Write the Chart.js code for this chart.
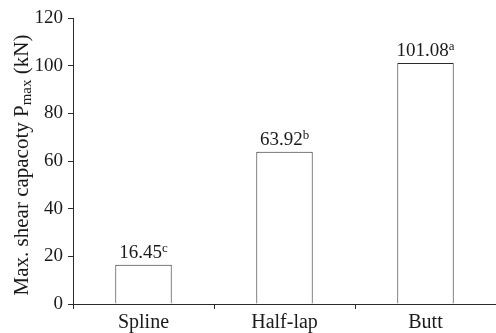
<!DOCTYPE html>
<html>
<head>
<meta charset="utf-8">
<script src="https://cdn.jsdelivr.net/npm/chart.js@4/dist/chart.umd.min.js"></script>
<style>
  html, body { margin: 0; padding: 0; background: #fff; }
  #wrap { width: 496px; height: 333px; }
</style>
</head>
<body>
<div id="wrap"><canvas id="c" width="496" height="333"></canvas></div>
<script>
// Joint types and their maximum shear capacity (kN)
const categories = ['Spline', 'Half-lap', 'Butt'];
const shearCapacity = [16.45, 63.92, 101.08];
// Significance letters shown as superscripts after each value
const significance = ['c', 'b', 'a'];
// Value axis range and step
const yMin = 0, yMax = 120, yStep = 20;

const SERIF = '"Liberation Serif", "Times New Roman", Times, serif';
const INK = '#1a1a1a';
const LINE = '#2a2a2a';

// Y axis title with subscript "max" after P
const yTitlePlugin = {
  id: 'yTitle',
  afterDraw(chart) {
    const ctx = chart.ctx;
    const parts = [
      { t: 'Max. shear capacoty P', size: 21, dy: 0 },
      { t: 'max', size: 15, dy: 3 },
      { t: ' (kN)', size: 21, dy: 0 }
    ];
    ctx.save();
    let total = 0;
    parts.forEach(p => { ctx.font = p.size + 'px ' + SERIF; p.w = ctx.measureText(p.t).width; total += p.w; });
    ctx.translate(28, 165);
    ctx.rotate(-Math.PI / 2);
    ctx.fillStyle = INK;
    ctx.textBaseline = 'alphabetic';
    ctx.textAlign = 'left';
    let x = -total / 2;
    parts.forEach(p => {
      ctx.font = p.size + 'px ' + SERIF;
      ctx.fillText(p.t, x, p.dy);
      x += p.w;
    });
    ctx.restore();
  }
};

// Value labels above bars, with significance letter as superscript
const valueLabelPlugin = {
  id: 'valueLabels',
  afterDatasetsDraw(chart) {
    const ctx = chart.ctx;
    const meta = chart.getDatasetMeta(0);
    ctx.save();
    ctx.fillStyle = INK;
    ctx.textBaseline = 'alphabetic';
    ctx.textAlign = 'left';
    meta.data.forEach((bar, i) => {
      const main = shearCapacity[i].toFixed(2);
      const sup = significance[i];
      ctx.font = '19px ' + SERIF;
      const w1 = ctx.measureText(main).width;
      ctx.font = '13px ' + SERIF;
      const w2 = ctx.measureText(sup).width;
      const x0 = bar.x - (w1 + w2) / 2;
      const base = bar.y - 7;
      ctx.font = '19px ' + SERIF;
      ctx.fillText(main, x0, base);
      ctx.font = '13px ' + SERIF;
      ctx.fillText(sup, x0 + w1, base - 6);
    });
    ctx.restore();
  }
};

new Chart(document.getElementById('c'), {
  type: 'bar',
  data: {
    labels: categories,
    datasets: [{
      data: shearCapacity,
      backgroundColor: '#ffffff',
      borderColor: LINE,
      borderWidth: 1,
      barPercentage: 0.4,
      categoryPercentage: 1.0
    }]
  },
  options: {
    responsive: false,
    animation: false,
    devicePixelRatio: 1,
    layout: { padding: { top: 18, right: 0, left: 0, bottom: 0 } },
    plugins: {
      legend: { display: false },
      tooltip: { enabled: false },
      title: { display: false }
    },
    scales: {
      x: {
        offset: true,
        grid: {
          display: true,
          drawOnChartArea: false,
          drawTicks: true,
          tickLength: 5,
          color: LINE,
          lineWidth: 1
        },
        border: { display: true, color: LINE, width: 1 },
        ticks: {
          color: INK,
          font: { family: SERIF, size: 20 },
          padding: 2,
          maxRotation: 0
        },
        afterFit(scale) { scale.height = 29; }
      },
      y: {
        min: yMin,
        max: yMax,
        grid: {
          display: true,
          drawOnChartArea: false,
          drawTicks: true,
          tickLength: 5,
          color: LINE,
          lineWidth: 1
        },
        border: { display: true, color: LINE, width: 1 },
        ticks: {
          stepSize: yStep,
          color: INK,
          font: { family: SERIF, size: 19 },
          padding: 5
        },
        afterFit(scale) { scale.width = 73; }
      }
    }
  },
  plugins: [yTitlePlugin, valueLabelPlugin]
});
</script>
</body>
</html>
